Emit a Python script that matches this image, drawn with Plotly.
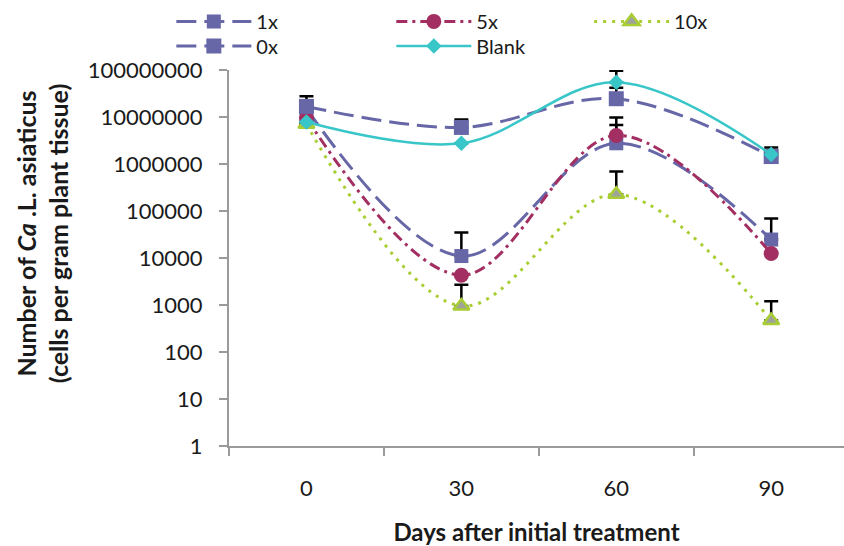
import plotly.graph_objects as go

days = ["0", "30", "60", "90"]

x1_vals = [1.5e7, 1.1e4, 2.76e6, 2.47e4]
x1_err = [None, 2.37e4, 4.0e6, 4.45e4]

x5_vals = [9.5e6, 4.3e3, 4.05e6, 1.25e4]
x5_err = [None, None, 5.7e6, None]

x10_vals = [7.0e6, 955, 2.26e5, 468]
x10_err = [None, 1740, 4.66e5, 734]

x0_vals = [1.68e7, 6.0e6, 2.45e7, 1.44e6]
x0_err = [1.07e7, 2.9e6, 1.72e7, 8.0e5]

blank_vals = [7.8e6, 2.76e6, 5.5e7, 1.6e6]
blank_err = [None, None, 4.16e7, None]

y_ticks = [1, 10, 100, 1000, 10000, 100000, 1000000, 10000000, 100000000]
y_ticktext = ["1", "10", "100", "1000", "10000", "100000", "1000000", "10000000", "100000000"]

FONT = "Lato"
C_PURPLE = "#6767A8"
C_RED = "#A32F62"
C_GREEN = "#A9CE33"
C_TEAL = "#38C6C8"


def err(arr):
    return dict(type="data", array=arr, symmetric=False, arrayminus=[0] * len(arr),
                color="black", thickness=2.5, width=7, visible=True)


fig = go.Figure()
fig.add_trace(go.Scatter(
    x=days, y=x1_vals, name="1x", legend="legend",
    mode="lines+markers", line=dict(color=C_PURPLE, width=3, dash="20px,8px", shape="spline"),
    marker=dict(symbol="square", size=14, color=C_PURPLE),
    error_y=err(x1_err)))
fig.add_trace(go.Scatter(
    x=days, y=x5_vals, name="5x", legend="legend",
    mode="lines+markers", line=dict(color=C_RED, width=3, dash="11px,5px,3px,5px", shape="spline"),
    marker=dict(symbol="circle", size=15, color=C_RED),
    error_y=err(x5_err)))
fig.add_trace(go.Scatter(
    x=days, y=x10_vals, name="10x", legend="legend3",
    mode="lines+markers", line=dict(color=C_GREEN, width=3, dash="3px,6px", shape="spline"),
    marker=dict(symbol="triangle-up", size=14, color="#9FA39A", line=dict(color=C_GREEN, width=2.5)),
    error_y=err(x10_err)))
fig.add_trace(go.Scatter(
    x=days, y=x0_vals, name="0x", legend="legend2",
    mode="lines+markers", line=dict(color=C_PURPLE, width=3, dash="20px,8px", shape="spline"),
    marker=dict(symbol="square", size=15, color=C_PURPLE),
    error_y=err(x0_err)))
fig.add_trace(go.Scatter(
    x=days, y=blank_vals, name="Blank", legend="legend2",
    mode="lines+markers", line=dict(color=C_TEAL, width=2.5, shape="spline"),
    marker=dict(symbol="diamond", size=12, color=C_TEAL),
    error_y=err(blank_err)))

legend_common = dict(orientation="h", xref="container", yref="container",
                     xanchor="left", yanchor="top", bgcolor="rgba(0,0,0,0)",
                     font=dict(family=FONT, size=20, color="#1a1a1a"),
                     itemwidth=75, entrywidth=130, tracegroupgap=0,
                     traceorder="normal")

fig.update_layout(
    width=844, height=546,
    margin=dict(l=229, r=0, t=70, b=100, autoexpand=False),
    paper_bgcolor="white", plot_bgcolor="white",
    font=dict(family=FONT, size=22, color="#1a1a1a"),
    legend=dict(x=0.203, y=0.9965, **legend_common),
    legend2=dict(x=0.203, y=0.9515, **legend_common),
    legend3=dict(x=0.698, y=0.9965, **legend_common),
    xaxis=dict(type="category", range=[-0.5, 3.47], showgrid=False, zeroline=False,
               showline=True, linecolor="#9a9a9a", linewidth=2,
               ticks="outside", tickson="boundaries", ticklen=8, tickwidth=2, tickcolor="#9a9a9a",
               ticklabelstandoff=22,
               title=dict(text="<b>Days after initial treatment</b>", standoff=25,
                          font=dict(family=FONT, size=24, color="#1a1a1a"))),
    yaxis=dict(type="log", range=[0, 8], showgrid=False, zeroline=False,
               showline=True, linecolor="#9a9a9a", linewidth=2,
               ticks="outside", ticklen=8, tickwidth=2, tickcolor="#9a9a9a",
               tickvals=y_ticks, ticktext=y_ticktext, ticklabelstandoff=12),
    annotations=[dict(
        text="<b>Number of <i>Ca</i> .L. asiaticus<br>(cells per gram plant tissue)</b>",
        xref="paper", yref="paper", x=-0.304, y=0.566, xanchor="center", yanchor="middle",
        textangle=-90, showarrow=False, font=dict(family=FONT, size=25, color="#1a1a1a"))],
)

fig.write_html("out.html", config={"displayModeBar": False},
               post_script="document.body.style.margin='0';")
